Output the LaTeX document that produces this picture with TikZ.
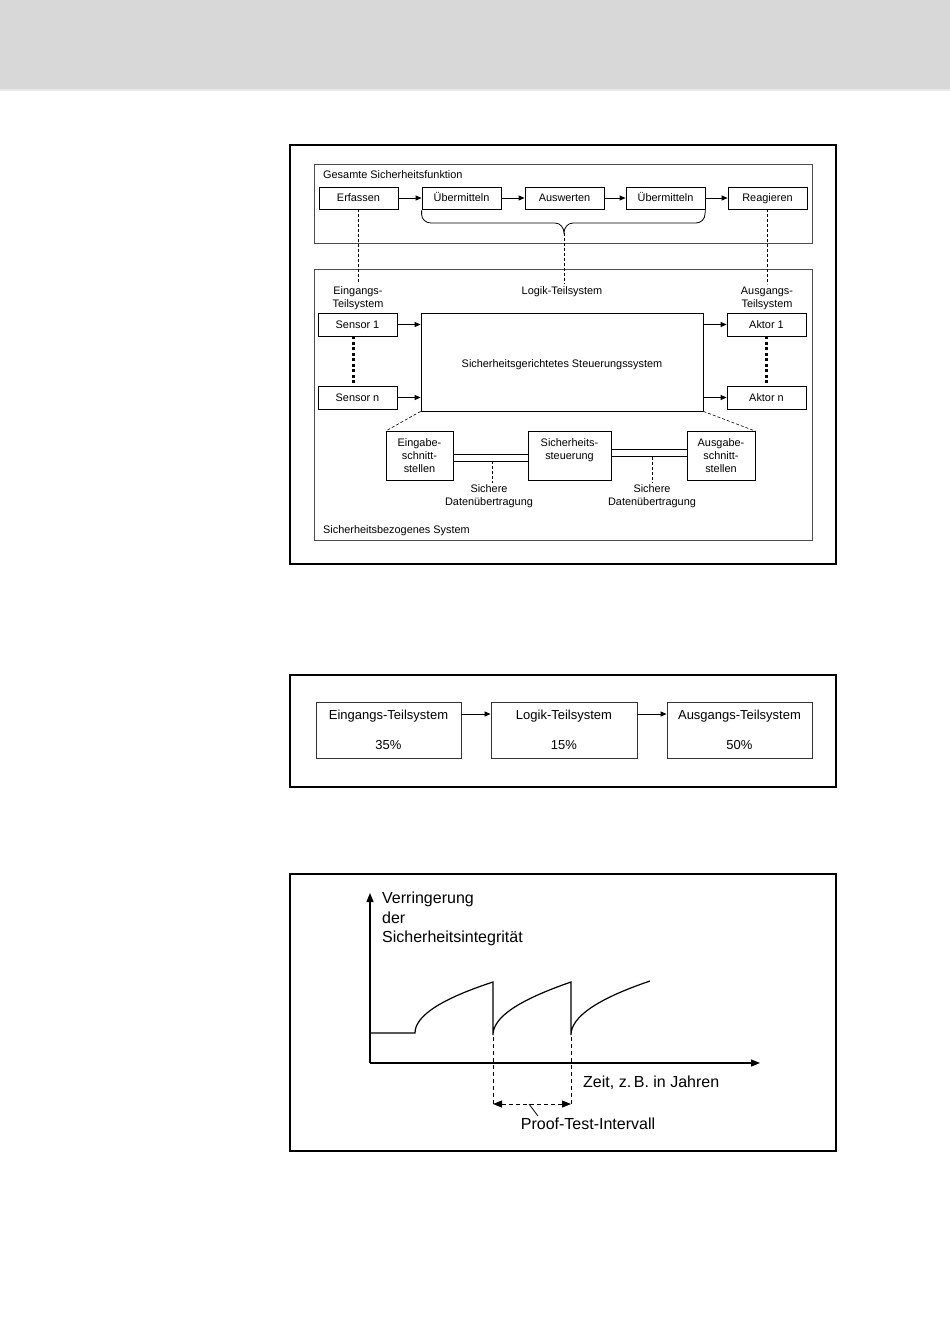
\documentclass[tikz,border=0pt]{standalone}
\usepackage{fontspec}
\setmainfont{Liberation Sans}
\usetikzlibrary{arrows.meta}
\definecolor{band}{HTML}{D8D8D8}
\definecolor{bandline}{HTML}{E8E8E8}
\newcommand\myfa{\fontsize{10.9}{13}\selectfont}
\newcommand\myfb{\fontsize{13}{15.6}\selectfont}
\newcommand\myfc{\fontsize{16}{19.5}\selectfont}
\begin{document}
\begin{tikzpicture}[x=1pt,y=-1pt,
  frame/.style={draw=black,line width=1.8pt},
  grp/.style={draw=black!70,line width=1pt},
  bx/.style={draw=black,line width=0.8pt,inner sep=0pt,align=center,font=\myfa},
  one/.style={text height=9pt,text depth=1.5pt},
  bxb/.style={draw=black!80,line width=0.9pt,inner sep=0pt,align=center,font=\myfb,minimum width=145pt,minimum height=56pt},
  arr/.style={-{Triangle[length=6pt,width=5pt]},line width=0.8pt},
  dsh/.style={line width=0.6pt,dash pattern=on 3pt off 2pt},
  thickdots/.style={line width=3pt,dash pattern=on 3pt off 2.5pt},
  lbl/.style={inner sep=0pt,align=center,font=\myfa},
  curve/.style={line width=1.2pt},
  dsh3/.style={line width=1pt,dash pattern=on 4pt off 3pt}]
\useasboundingbox (0,0) rectangle (950,1344);
\fill[band] (0,0) rectangle (950,89);
\fill[bandline] (0,89) rectangle (950,91);

% ---------------- Figure 1 ----------------
\draw[frame] (290,145) rectangle (836,564);
\draw[grp] (314,164) rectangle (812,243);
\draw[grp] (314,269) rectangle (812,540);
\node[lbl,anchor=west] (gsf) at (323,175) {Gesamte Sicherheitsfunktion};
\node[lbl,anchor=west] (sbs) at (323,531) {Sicherheitsbezogenes System};

\begin{scope}[every node/.append style={minimum width=79pt,minimum height=22pt}]
\node[bx,one] (erf) at (358.5,198) {Erfassen};
\node[bx,one] (ueb1) at (461.5,198) {Übermitteln};
\node[bx,one] (ausw) at (564.5,198) {Auswerten};
\node[bx,one] (ueb2) at (665.5,198) {Übermitteln};
\node[bx,one] (reag) at (767.5,198) {Reagieren};
\end{scope}
\draw[arr] (erf) -- (ueb1);
\draw[arr] (ueb1) -- (ausw);
\draw[arr] (ausw) -- (ueb2);
\draw[arr] (ueb2) -- (reag);

% brace
\coordinate (btip) at (564,233);
\draw[line width=0.8pt] ([yshift=-1pt]ueb1.south west) -- ++(0,4)
  to[out=-90,in=180] (431,223) -- (555,223) to[out=0,in=90] (btip)
  to[out=90,in=180] (573,223) -- (696,223) to[out=0,in=-90] (705,214)
  -- ([yshift=-1pt]ueb2.south east);

\node[lbl] (eints) at (358,298) {Eingangs-\\Teilsystem};
\node[lbl] (logts) at (562,291.5) {Logik-Teilsystem};
\node[lbl] (austs) at (767,298) {Ausgangs-\\Teilsystem};
\draw[dsh] (erf.south) -- ([yshift=2pt]erf.south |- eints.north);
\draw[dsh] (btip) -- ([yshift=3pt]btip |- logts.north);
\draw[dsh] (reag.south) -- ([yshift=2pt]reag.south |- austs.north);

\begin{scope}[every node/.append style={minimum width=79pt,minimum height=23pt}]
\node[bx,one] (s1) at (357.5,324.5) {Sensor 1};
\node[bx,one] (sn) at (357.5,397.5) {Sensor n};
\node[bx,one] (a1) at (766.5,324.5) {Aktor 1};
\node[bx,one] (an) at (766.5,397.5) {Aktor n};
\end{scope}
\node[bx,minimum width=282pt,minimum height=98pt] (big) at (562,362) {};
\node[lbl,one] (bigl) at (562,364) {Sicherheitsgerichtetes Steuerungssystem};
\draw[arr] (s1.east) -- (s1.east -| big.west);
\draw[arr] (sn.east) -- (sn.east -| big.west);
\draw[arr] (a1.west -| big.east) -- (a1.west);
\draw[arr] (an.west -| big.east) -- (an.west);
\draw[thickdots] ([xshift=-4.5pt]s1.south) -- ([xshift=-4.5pt]sn.north);
\draw[thickdots] (a1.south) -- (an.north);

\node[bx,minimum width=67pt,minimum height=49pt] (ein) at (419.5,456) {Eingabe-\\schnitt-\\stellen};
\node[bx,minimum width=83pt,minimum height=49pt] (sst) at (569.5,455.5) {};
\node[lbl] (sstl) at (569.5,450) {Sicherheits-\\steuerung};
\node[bx,minimum width=68pt,minimum height=49pt] (aus) at (721,456) {Ausgabe-\\schnitt-\\stellen};
\draw[dsh] (big.south west) -- (ein.north west);
\draw[dsh] (big.south east) -- (aus.north east);
\draw[line width=0.8pt] ([yshift=1.5pt]ein.east) -- ([yshift=1.5pt]ein.east -| sst.west);
\draw[line width=0.8pt] ([yshift=-5.5pt]ein.east) -- ([yshift=-5.5pt]ein.east -| sst.west);
\draw[line width=0.8pt] ([yshift=6.5pt]sst.east) -- ([yshift=6.5pt]sst.east -| aus.west);
\draw[line width=0.8pt] ([yshift=-1pt]sst.east) -- ([yshift=-1pt]sst.east -| aus.west);
\node[lbl] (sd1) at (489,496.5) {Sichere\\Datenübertragung};
\node[lbl] (sd2) at (652,496.5) {Sichere\\Datenübertragung};
\coordinate (dl1) at (492,461);
\coordinate (dl2) at (652,457);
\draw[dsh] (dl1) -- ([yshift=2pt]dl1 |- sd1.north);
\draw[dsh] (dl2) -- ([yshift=2pt]dl2 |- sd2.north);

% ---------------- Figure 2 ----------------
\draw[frame] (290,675) rectangle (836,787);
\node[bxb] (t1) at (388.5,730) {Eingangs-Teilsystem\\[15pt]35\%};
\node[bxb,minimum width=146pt] (t2) at (564,730) {Logik-Teilsystem\\[15pt]15\%};
\node[bxb] (t3) at (739.5,730) {Ausgangs-Teilsystem\\[15pt]50\%};
\draw[arr] ([yshift=16pt]t1.east) -- ([yshift=16pt]t2.west);
\draw[arr] ([yshift=16pt]t2.east) -- ([yshift=16pt]t3.west);

% ---------------- Figure 3 ----------------
\draw[frame] (290,874) rectangle (836,1151);
\coordinate (O) at (370,1063);
\coordinate (ytip) at (370,893);
\coordinate (xtip) at (760,1063);
\draw[curve,-{Triangle[length=9pt,width=7pt]}] (O) -- (ytip);
\draw[curve,-{Triangle[length=9pt,width=7pt]}] (O) -- (xtip);
\node[inner sep=0pt,align=left,anchor=west,font=\myfc] (yl) at (382,919) {Verringerung\\der\\Sicherheitsintegrität};
\node[inner sep=0pt,anchor=west,font=\myfc] (xl) at (583,1082.5) {Zeit, z.\,B. in Jahren};
\draw[curve] (370,1033) -- (415,1033) .. controls (415,1016) and (441,999) .. (493,982)
  -- (493,1035) .. controls (493,1017) and (519,1000) .. (571,982)
  -- (571,1035) .. controls (571,1017) and (597,999) .. (650,981);
\coordinate (p1) at (493,1037);
\coordinate (p2) at (571,1037);
\coordinate (q1) at (493,1104);
\coordinate (q2) at (571,1104);
\draw[dsh3] (p1) -- ([yshift=-2pt]q1);
\draw[dsh3] (p2) -- ([yshift=-2pt]q2);
\draw[dsh3,{Triangle[length=9pt,width=7pt]}-{Triangle[length=9pt,width=7pt]}] (q1) -- (q2);
\node[inner sep=0pt,font=\myfc] (ptl) at (588,1124) {Proof-Test-Intervall};
\coordinate (lk) at (529,1104);
\draw[line width=0.8pt] (lk) -- (538,1116);
\end{tikzpicture}
\end{document}
